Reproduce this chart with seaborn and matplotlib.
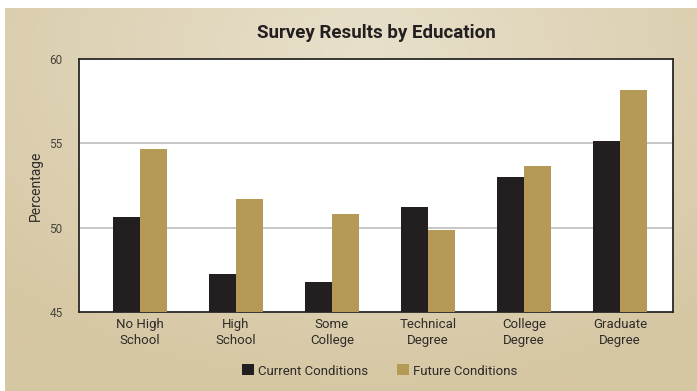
import numpy as np
import pandas as pd
import matplotlib
matplotlib.use("Agg")
import matplotlib.pyplot as plt
import seaborn as sns
from matplotlib.patches import Patch

categories = ["No High\nSchool", "High\nSchool", "Some\nCollege", "Technical\nDegree", "College\nDegree", "Graduate\nDegree"]
current = [50.65, 47.25, 46.8, 51.2, 53.0, 55.15]
future = [54.68, 51.68, 50.8, 49.84, 53.65, 58.14]
series_names = ["Current Conditions", "Future Conditions"]
y_ticks = [45, 50, 55, 60]

df = pd.DataFrame({
    "Education": categories * 2,
    "Value": current + future,
    "Series": [series_names[0]] * len(categories) + [series_names[1]] * len(categories),
})

sns.set_theme(style="white")
plt.rcParams["font.family"] = ["Roboto", "DejaVu Sans"]

W, H = 697, 391
fig = plt.figure(figsize=(W / 100, H / 100), dpi=100, facecolor="white")

# background gradient panel
bg = fig.add_axes([5 / W, 0, 1 - 5 / W, 1 - 8 / H], zorder=-10)
yy, xx = np.mgrid[0:1:200j, 0:1:360j]
d = np.sqrt(((xx - 0.52) / 0.75) ** 2 + ((yy - 0.12) / 0.9) ** 2)
d = np.clip(d, 0, 1)
c_in = np.array([0xe8, 0xe0, 0xcb]) / 255
c_out = np.array([0xd6, 0xc7, 0xa3]) / 255
img = c_in[None, None, :] * (1 - d[..., None]) + c_out[None, None, :] * d[..., None]
bg.imshow(img, aspect="auto", extent=[0, 1, 0, 1], origin="upper")
bg.set_axis_off()

ax = fig.add_axes([79.3 / W, 1 - 312.3 / H, (673 - 79.3) / W, (312.3 - 58.7) / H])
ax.set_facecolor("white")
palette = {series_names[0]: "#231f20", series_names[1]: "#b59a56"}
sns.barplot(data=df, x="Education", y="Value", hue="Series", palette=palette,
            width=0.56, ax=ax, legend=False, saturation=1, zorder=3)
for p in ax.patches:
    p.set_edgecolor("none")

ax.set_ylim(45, 60)
ax.set_xlim(-0.632, 5.552)
ax.set_yticks(y_ticks)
ax.set_yticklabels([str(v) for v in y_ticks], fontsize=8.5, color="#4a4640")
ax.tick_params(axis="y", length=0, pad=12)
ax.tick_params(axis="x", length=0, pad=4)
ax.set_xticks(range(len(categories)))
ax.set_xticklabels(categories, fontsize=9.5, color="#2e2b28", linespacing=1.3)
for yv in [50, 55]:
    ax.axhline(yv, color="#bdbdbd", lw=1.2, zorder=1)
for s in ax.spines.values():
    s.set_color("#2a2826")
    s.set_linewidth(1.3)
    s.set_visible(True)
ax.set_xlabel("")
ax.set_ylabel("Percentage", fontsize=10, color="#2e2b28", labelpad=5)

fig.text(376 / W, 1 - 33 / H, "Survey Results by Education", ha="center", va="center",
         fontsize=13.5, fontweight="bold", color="#231f20")

handles = [Patch(facecolor=palette[n], edgecolor="none") for n in series_names]
fig.legend(handles, series_names, loc="center", bbox_to_anchor=(380 / W, 1 - 371 / H),
           ncol=2, frameon=False, fontsize=9.5, handlelength=0.9, handleheight=0.9,
           handletextpad=0.3, columnspacing=2.2, labelcolor="#2e2b28")

fig.savefig("out.png", dpi=100, facecolor="white")
